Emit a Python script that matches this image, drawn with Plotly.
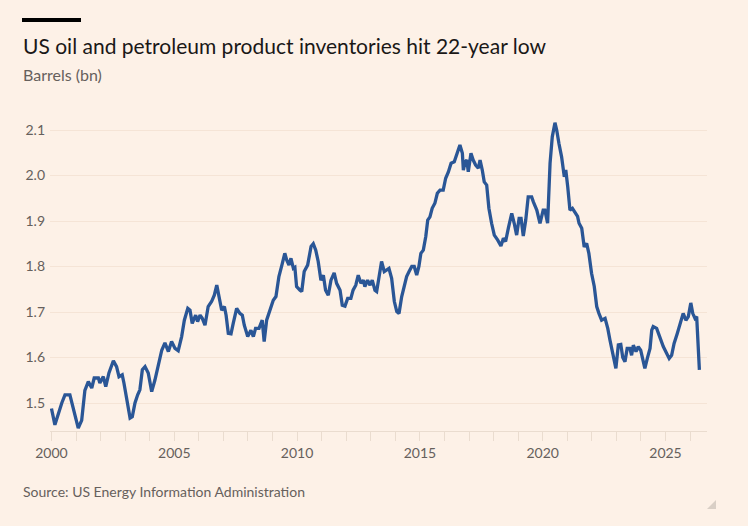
import plotly.graph_objects as go

years = [
    2000.00, 2000.14, 2000.42, 2000.55, 2000.75, 2000.89, 2001.03, 2001.09, 2001.23, 2001.36,
    2001.50, 2001.64, 2001.74, 2001.91, 2001.97, 2002.11, 2002.21, 2002.34, 2002.52, 2002.65,
    2002.75, 2002.88, 2002.95, 2003.06, 2003.20, 2003.29, 2003.40, 2003.51, 2003.60, 2003.70,
    2003.81, 2003.94, 2004.08, 2004.21, 2004.35, 2004.49, 2004.62, 2004.76, 2004.89, 2005.03,
    2005.16, 2005.30, 2005.41, 2005.55, 2005.64, 2005.73, 2005.87, 2005.95, 2006.05, 2006.14,
    2006.25, 2006.38, 2006.52, 2006.63, 2006.73, 2006.82, 2006.93, 2007.04, 2007.11, 2007.20,
    2007.31, 2007.40, 2007.54, 2007.67, 2007.77, 2007.85, 2007.99, 2008.12, 2008.22, 2008.31,
    2008.45, 2008.58, 2008.66, 2008.76, 2008.90, 2009.03, 2009.14, 2009.26, 2009.40, 2009.50,
    2009.58, 2009.67, 2009.75, 2009.85, 2009.91, 2009.98, 2010.12, 2010.19, 2010.29, 2010.43,
    2010.57, 2010.66, 2010.76, 2010.86, 2010.97, 2011.07, 2011.16, 2011.27, 2011.38, 2011.51,
    2011.61, 2011.75, 2011.84, 2011.95, 2012.06, 2012.19, 2012.28, 2012.39, 2012.49, 2012.60,
    2012.70, 2012.76, 2012.87, 2012.97, 2013.06, 2013.17, 2013.24, 2013.33, 2013.44, 2013.55,
    2013.65, 2013.74, 2013.85, 2013.96, 2014.06, 2014.15, 2014.26, 2014.36, 2014.46, 2014.56,
    2014.67, 2014.77, 2014.87, 2014.96, 2015.04, 2015.14, 2015.24, 2015.32, 2015.41, 2015.50,
    2015.61, 2015.71, 2015.82, 2015.95, 2016.05, 2016.16, 2016.27, 2016.40, 2016.50, 2016.63,
    2016.73, 2016.77, 2016.84, 2016.91, 2016.97, 2017.08, 2017.17, 2017.27, 2017.38, 2017.45,
    2017.54, 2017.62, 2017.72, 2017.81, 2017.92, 2018.03, 2018.17, 2018.30, 2018.40, 2018.49,
    2018.60, 2018.74, 2018.84, 2018.94, 2019.04, 2019.12, 2019.21, 2019.31, 2019.41, 2019.55,
    2019.62, 2019.76, 2019.89, 2020.02, 2020.09, 2020.20, 2020.30, 2020.39, 2020.50, 2020.57,
    2020.66, 2020.77, 2020.88, 2020.94, 2021.02, 2021.11, 2021.21, 2021.32, 2021.42, 2021.48,
    2021.59, 2021.69, 2021.79, 2021.88, 2021.99, 2022.10, 2022.20, 2022.29, 2022.40, 2022.54,
    2022.65, 2022.74, 2022.83, 2022.92, 2022.98, 2023.08, 2023.18, 2023.26, 2023.35, 2023.44,
    2023.55, 2023.62, 2023.69, 2023.80, 2023.89, 2023.99, 2024.07, 2024.16, 2024.26, 2024.37,
    2024.44, 2024.50, 2024.64, 2024.71, 2024.80, 2024.91, 2025.05, 2025.15, 2025.25, 2025.35,
    2025.48, 2025.59, 2025.72, 2025.83, 2025.93, 2026.03, 2026.11, 2026.20, 2026.27, 2026.38,
]

inventories_bn = [
    1.488, 1.452, 1.500, 1.518, 1.518, 1.485, 1.452, 1.445, 1.462, 1.528,
    1.547, 1.533, 1.555, 1.555, 1.544, 1.558, 1.536, 1.566, 1.593, 1.580,
    1.558, 1.562, 1.544, 1.514, 1.467, 1.470, 1.500, 1.518, 1.529, 1.573,
    1.580, 1.566, 1.525, 1.550, 1.580, 1.616, 1.632, 1.613, 1.635, 1.620,
    1.615, 1.646, 1.682, 1.708, 1.704, 1.675, 1.693, 1.679, 1.693, 1.686,
    1.671, 1.712, 1.723, 1.737, 1.759, 1.734, 1.704, 1.712, 1.693, 1.653,
    1.652, 1.675, 1.708, 1.697, 1.693, 1.671, 1.646, 1.660, 1.646, 1.664,
    1.664, 1.682, 1.635, 1.682, 1.704, 1.726, 1.734, 1.778, 1.807, 1.829,
    1.814, 1.803, 1.818, 1.796, 1.798, 1.756, 1.748, 1.745, 1.789, 1.803,
    1.844, 1.850, 1.836, 1.811, 1.770, 1.781, 1.748, 1.737, 1.770, 1.786,
    1.763, 1.748, 1.715, 1.713, 1.730, 1.730, 1.748, 1.759, 1.781, 1.763,
    1.770, 1.756, 1.770, 1.759, 1.770, 1.748, 1.745, 1.778, 1.811, 1.789,
    1.792, 1.796, 1.774, 1.723, 1.701, 1.697, 1.734, 1.760, 1.778, 1.789,
    1.800, 1.800, 1.781, 1.800, 1.829, 1.836, 1.866, 1.902, 1.909, 1.928,
    1.939, 1.961, 1.968, 1.968, 1.994, 2.008, 2.027, 2.030, 2.045, 2.067,
    2.049, 2.012, 2.030, 2.034, 2.008, 2.049, 2.034, 2.023, 2.016, 2.034,
    2.012, 1.986, 1.979, 1.928, 1.895, 1.869, 1.858, 1.845, 1.862, 1.855,
    1.884, 1.917, 1.895, 1.869, 1.906, 1.906, 1.867, 1.902, 1.953, 1.953,
    1.942, 1.924, 1.895, 1.924, 1.924, 1.895, 2.027, 2.085, 2.116, 2.100,
    2.071, 2.041, 1.997, 2.012, 1.975, 1.924, 1.928, 1.917, 1.910, 1.895,
    1.884, 1.843, 1.851, 1.829, 1.785, 1.756, 1.712, 1.697, 1.682, 1.686,
    1.664, 1.638, 1.616, 1.598, 1.576, 1.628, 1.629, 1.600, 1.591, 1.620,
    1.620, 1.605, 1.627, 1.613, 1.624, 1.616, 1.595, 1.576, 1.598, 1.620,
    1.660, 1.668, 1.664, 1.653, 1.638, 1.624, 1.609, 1.598, 1.605, 1.631,
    1.653, 1.675, 1.697, 1.682, 1.690, 1.720, 1.697, 1.686, 1.690, 1.573,
]

y_ticks = [1.5, 1.6, 1.7, 1.8, 1.9, 2.0, 2.1]
x_ticks = [2000, 2005, 2010, 2015, 2020, 2025]

title_text = "US oil and petroleum product inventories hit 22-year low"
subtitle_text = "Barrels (bn)"
source_text = "Source: US Energy Information Administration"

BG = "#FDF1E7"
FONT = "Lato"
W, H = 748, 526
ML, MR, MT, MB = 50, 41, 110, 95

fig = go.Figure()
fig.add_trace(go.Scatter(
    x=years, y=inventories_bn, mode="lines",
    line=dict(color="#2A5696", width=3.3, shape="linear"),
    hoverinfo="skip", showlegend=False,
))

fig.update_layout(
    width=W, height=H,
    paper_bgcolor=BG, plot_bgcolor=BG,
    margin=dict(l=ML, r=MR, t=MT, b=MB),
    font=dict(family=FONT, color="#66605C"),
    xaxis=dict(
        range=[1999.94, 2026.69], tickvals=x_ticks, ticktext=[str(v) for v in x_ticks],
        showgrid=False, zeroline=False,
        showline=True, linecolor="#EADCCF", linewidth=1,
        ticks="outside", ticklen=9, tickcolor="#EADCCF", tickwidth=1,
        minor=dict(dtick=1, tick0=2000, ticks="outside", ticklen=9, tickcolor="#EADCCF", tickwidth=1, showgrid=False),
        tickfont=dict(family=FONT, size=14, color="#66605C"),
    ),
    yaxis=dict(
        range=[1.4385, 2.144], tickvals=y_ticks, ticktext=[f"{v:.1f}" for v in y_ticks],
        showgrid=True, gridcolor="#F5E4D6", gridwidth=1, zeroline=False,
        showline=False, ticks="", ticklabelstandoff=4,
        tickfont=dict(family=FONT, size=14, color="#66605C"),
    ),
)

def px(xp):
    return (xp - ML) / (W - ML - MR)

def py(yp):
    return (H - MB - yp) / (H - MT - MB)

# Top black bar and bottom-right corner triangle
fig.add_shape(type="rect", xref="paper", yref="paper",
              x0=px(22), x1=px(81), y0=py(22), y1=py(18),
              line=dict(width=0), fillcolor="#000000")
fig.add_shape(type="path", xref="paper", yref="paper",
              path=f"M {px(716)} {py(500)} L {px(716)} {py(509)} L {px(707)} {py(509)} Z",
              line=dict(width=0), fillcolor="#D9CFC6")

fig.add_annotation(text=title_text, xref="paper", yref="paper", x=px(21), y=py(45),
                   xanchor="left", yanchor="middle", showarrow=False,
                   font=dict(family=FONT, size=21, color="#1A1817"))
fig.add_annotation(text=subtitle_text, xref="paper", yref="paper", x=px(21), y=py(74),
                   xanchor="left", yanchor="middle", showarrow=False,
                   font=dict(family=FONT, size=16, color="#66605C"))
fig.add_annotation(text=source_text, xref="paper", yref="paper", x=px(21), y=py(492),
                   xanchor="left", yanchor="middle", showarrow=False,
                   font=dict(family=FONT, size=14, color="#66605C"))

fig.write_html("out.html")
